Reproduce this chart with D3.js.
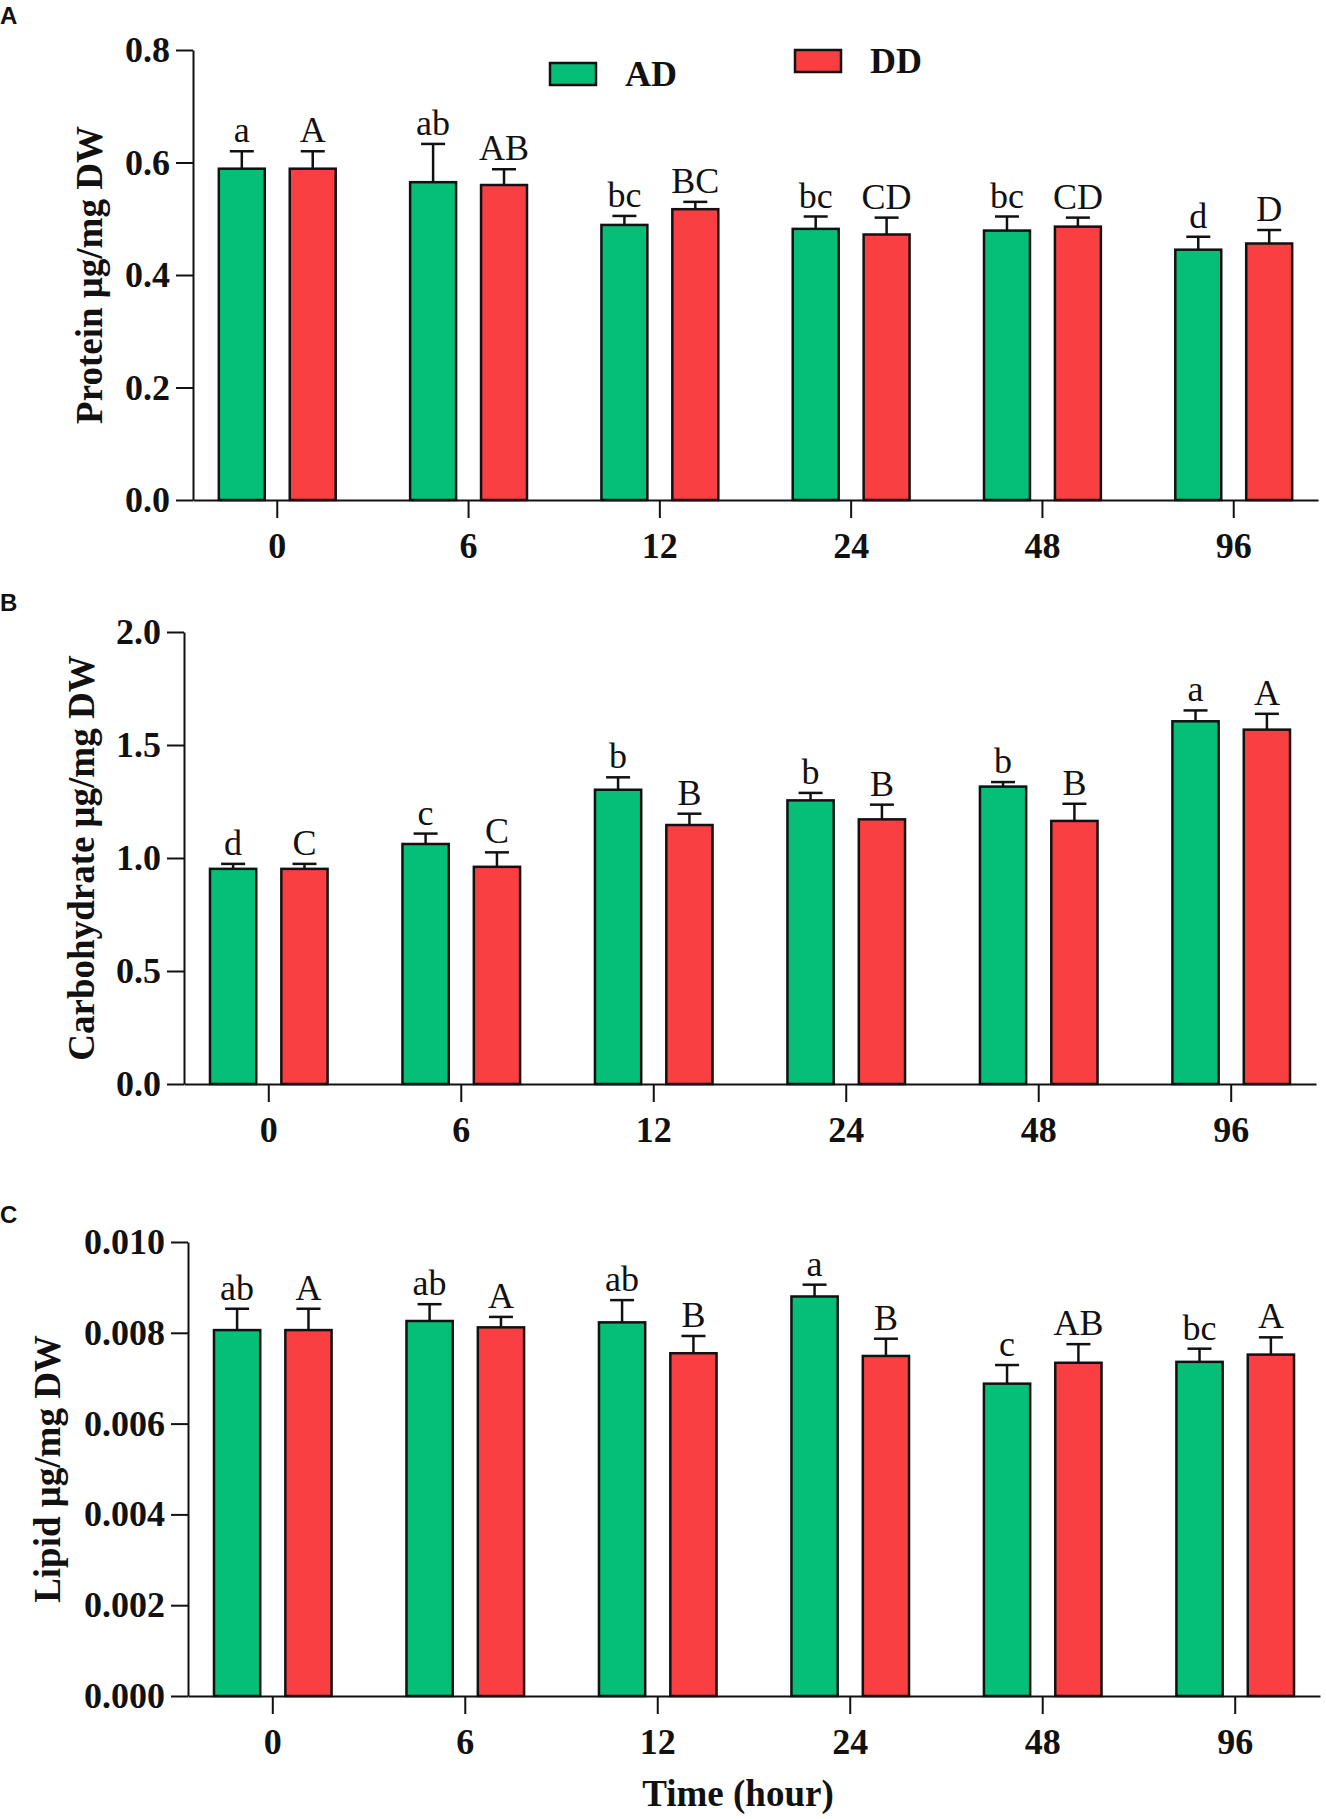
<!DOCTYPE html>
<html>
<head>
<meta charset="utf-8">
<script src="https://cdn.jsdelivr.net/npm/d3@7"></script>
<style>
  body { margin: 0; background: #fff; }
  svg text { font-family: "Liberation Serif", "Times New Roman", serif; }
</style>
</head>
<body>
<svg id="chart" width="1326" height="1819"></svg>
<script>
// categories
var times = ["0", "6", "12", "24", "48", "96"];
var groups = ["AD", "DD"];

// protein
var proteinAD = [0.589, 0.565, 0.489, 0.482, 0.479, 0.445];
var proteinADErr = [0.031, 0.068, 0.016, 0.022, 0.025, 0.023];
var proteinDD = [0.589, 0.560, 0.517, 0.472, 0.486, 0.456];
var proteinDDErr = [0.031, 0.028, 0.013, 0.030, 0.016, 0.024];
var proteinADLetters = ["a", "ab", "bc", "bc", "bc", "d"];
var proteinDDLetters = ["A", "AB", "BC", "CD", "CD", "D"];
var proteinTicks = [0, 0.2, 0.4, 0.6, 0.8];

// carbohydrate
var carbAD = [0.952, 1.062, 1.302, 1.255, 1.316, 1.605];
var carbADErr = [0.022, 0.046, 0.055, 0.033, 0.020, 0.048];
var carbDD = [0.952, 0.961, 1.146, 1.171, 1.164, 1.568];
var carbDDErr = [0.022, 0.064, 0.050, 0.065, 0.076, 0.070];
var carbADLetters = ["d", "c", "b", "b", "b", "a"];
var carbDDLetters = ["C", "C", "B", "B", "B", "A"];
var carbTicks = [0, 0.5, 1.0, 1.5, 2.0];

// lipid
var lipidAD = [0.00806, 0.00826, 0.00823, 0.00880, 0.00688, 0.00736];
var lipidADErr = [0.00047, 0.00037, 0.00049, 0.00026, 0.00041, 0.00029];
var lipidDD = [0.00806, 0.00812, 0.00755, 0.00749, 0.00734, 0.00752];
var lipidDDErr = [0.00047, 0.00023, 0.00038, 0.00038, 0.00041, 0.00038];
var lipidADLetters = ["ab", "ab", "ab", "a", "c", "bc"];
var lipidDDLetters = ["A", "A", "B", "B", "AB", "A"];
var lipidTicks = [0, 0.002, 0.004, 0.006, 0.008, 0.010];

var colors = {AD: "#05BE78", DD: "#F93F41"};
var svg = d3.select("#chart");

function drawPanel(p) {
  var g = svg.append("g");

  var x0 = d3.scaleBand()
    .domain(times)
    .range([p.left, p.right])
    .paddingInner(0.389)
    .paddingOuter(0.135);
  var x1 = d3.scaleBand()
    .domain(groups)
    .range([0, x0.bandwidth()])
    .paddingInner(0.352);
  var y = d3.scaleLinear()
    .domain([0, p.max])
    .range([p.bottom, p.top]);

  var rows = [];
  times.forEach(function(t, i) {
    rows.push({t: t, grp: "AD", v: p.ad[i], e: p.adErr[i], lab: p.adLab[i]});
    rows.push({t: t, grp: "DD", v: p.dd[i], e: p.ddErr[i], lab: p.ddLab[i]});
  });

  // error bars
  var eb = g.selectAll(".err").data(rows).enter().append("g");
  eb.append("line")
    .attr("x1", d => x0(d.t) + x1(d.grp) + x1.bandwidth() / 2)
    .attr("x2", d => x0(d.t) + x1(d.grp) + x1.bandwidth() / 2)
    .attr("y1", d => y(d.v))
    .attr("y2", d => y(d.v + d.e))
    .attr("stroke", "#111").attr("stroke-width", 2.5);
  eb.append("line")
    .attr("x1", d => x0(d.t) + x1(d.grp) + x1.bandwidth() / 2 - 12)
    .attr("x2", d => x0(d.t) + x1(d.grp) + x1.bandwidth() / 2 + 12)
    .attr("y1", d => y(d.v + d.e))
    .attr("y2", d => y(d.v + d.e))
    .attr("stroke", "#111").attr("stroke-width", 2.5);

  // bars
  g.selectAll(".bar").data(rows).enter().append("rect")
    .attr("x", d => x0(d.t) + x1(d.grp))
    .attr("width", x1.bandwidth())
    .attr("y", d => y(d.v))
    .attr("height", d => y(0) - y(d.v))
    .attr("fill", d => colors[d.grp])
    .attr("stroke", "#111")
    .attr("stroke-width", 2.5);

  // significance letters
  g.selectAll(".lab").data(rows).enter().append("text")
    .attr("x", d => x0(d.t) + x1(d.grp) + x1.bandwidth() / 2)
    .attr("y", d => y(d.v + d.e) - 9)
    .attr("text-anchor", "middle")
    .attr("font-size", "36px")
    .attr("fill", "#111")
    .text(d => d.lab);

  // y axis
  var yAxis = d3.axisLeft(y)
    .tickValues(p.ticks)
    .tickFormat(d3.format(p.fmt))
    .tickSize(17).tickSizeOuter(0).tickPadding(6);
  var ya = g.append("g")
    .attr("transform", "translate(" + p.left + ",0)")
    .call(yAxis);

  // x axis
  var xAxis = d3.axisBottom(x0).tickSize(18).tickSizeOuter(0).tickPadding(14);
  var xa = g.append("g")
    .attr("transform", "translate(0," + p.bottom + ")")
    .call(xAxis);

  [ya, xa].forEach(function(a) {
    a.selectAll("path, line").attr("stroke", "#111").attr("stroke-width", 2);
    a.selectAll("text")
      .attr("font-family", "Liberation Serif, Times New Roman, serif")
      .attr("font-size", "36px")
      .attr("font-weight", "bold")
      .attr("fill", "#111");
  });

  // y label
  g.append("text")
    .attr("transform", "translate(" + p.titleX + "," + ((p.top + p.bottom) / 2) + ") rotate(-90)")
    .attr("text-anchor", "middle")
    .attr("dy", "0.35em")
    .attr("font-size", "37px")
    .attr("font-weight", "bold")
    .attr("fill", "#111")
    .text(p.title);

  // panel letter
  svg.append("text")
    .attr("x", 0)
    .attr("y", p.letterY)
    .style("font-family", "Liberation Sans, Arial, sans-serif")
    .attr("font-size", "24px")
    .attr("font-weight", "bold")
    .attr("fill", "#111")
    .text(p.letter);
}

drawPanel({letter: "A", letterY: 24, left: 193, right: 1318, top: 50, bottom: 500,
  max: 0.8, ticks: proteinTicks, fmt: ".1f", titleX: 89, title: "Protein μg/mg DW",
  ad: proteinAD, adErr: proteinADErr, dd: proteinDD, ddErr: proteinDDErr,
  adLab: proteinADLetters, ddLab: proteinDDLetters});

drawPanel({letter: "B", letterY: 611, left: 184, right: 1316, top: 632, bottom: 1084,
  max: 2.0, ticks: carbTicks, fmt: ".1f", titleX: 81, title: "Carbohydrate μg/mg DW",
  ad: carbAD, adErr: carbADErr, dd: carbDD, ddErr: carbDDErr,
  adLab: carbADLetters, ddLab: carbDDLetters});

drawPanel({letter: "C", letterY: 1223, left: 188, right: 1320, top: 1242, bottom: 1696,
  max: 0.010, ticks: lipidTicks, fmt: ".3f", titleX: 47, title: "Lipid μg/mg DW",
  ad: lipidAD, adErr: lipidADErr, dd: lipidDD, ddErr: lipidDDErr,
  adLab: lipidADLetters, ddLab: lipidDDLetters});

// x axis title
svg.append("text")
  .attr("x", 738)
  .attr("y", 1806)
  .attr("text-anchor", "middle")
  .attr("font-size", "37px")
  .attr("font-weight", "bold")
  .attr("fill", "#111")
  .text("Time (hour)");

// legend
var legend = [
  {name: "AD", x: 550, y: 63},
  {name: "DD", x: 795, y: 50}
];
var lg = svg.selectAll(".legend").data(legend).enter().append("g");
lg.append("rect")
  .attr("x", d => d.x).attr("y", d => d.y)
  .attr("width", 46).attr("height", 22)
  .attr("fill", d => colors[d.name])
  .attr("stroke", "#111").attr("stroke-width", 2.5);
lg.append("text")
  .attr("x", d => d.x + 75).attr("y", d => d.y + 23)
  .attr("font-size", "36px")
  .attr("font-weight", "bold")
  .attr("fill", "#111")
  .text(d => d.name);
</script>
</body>
</html>
